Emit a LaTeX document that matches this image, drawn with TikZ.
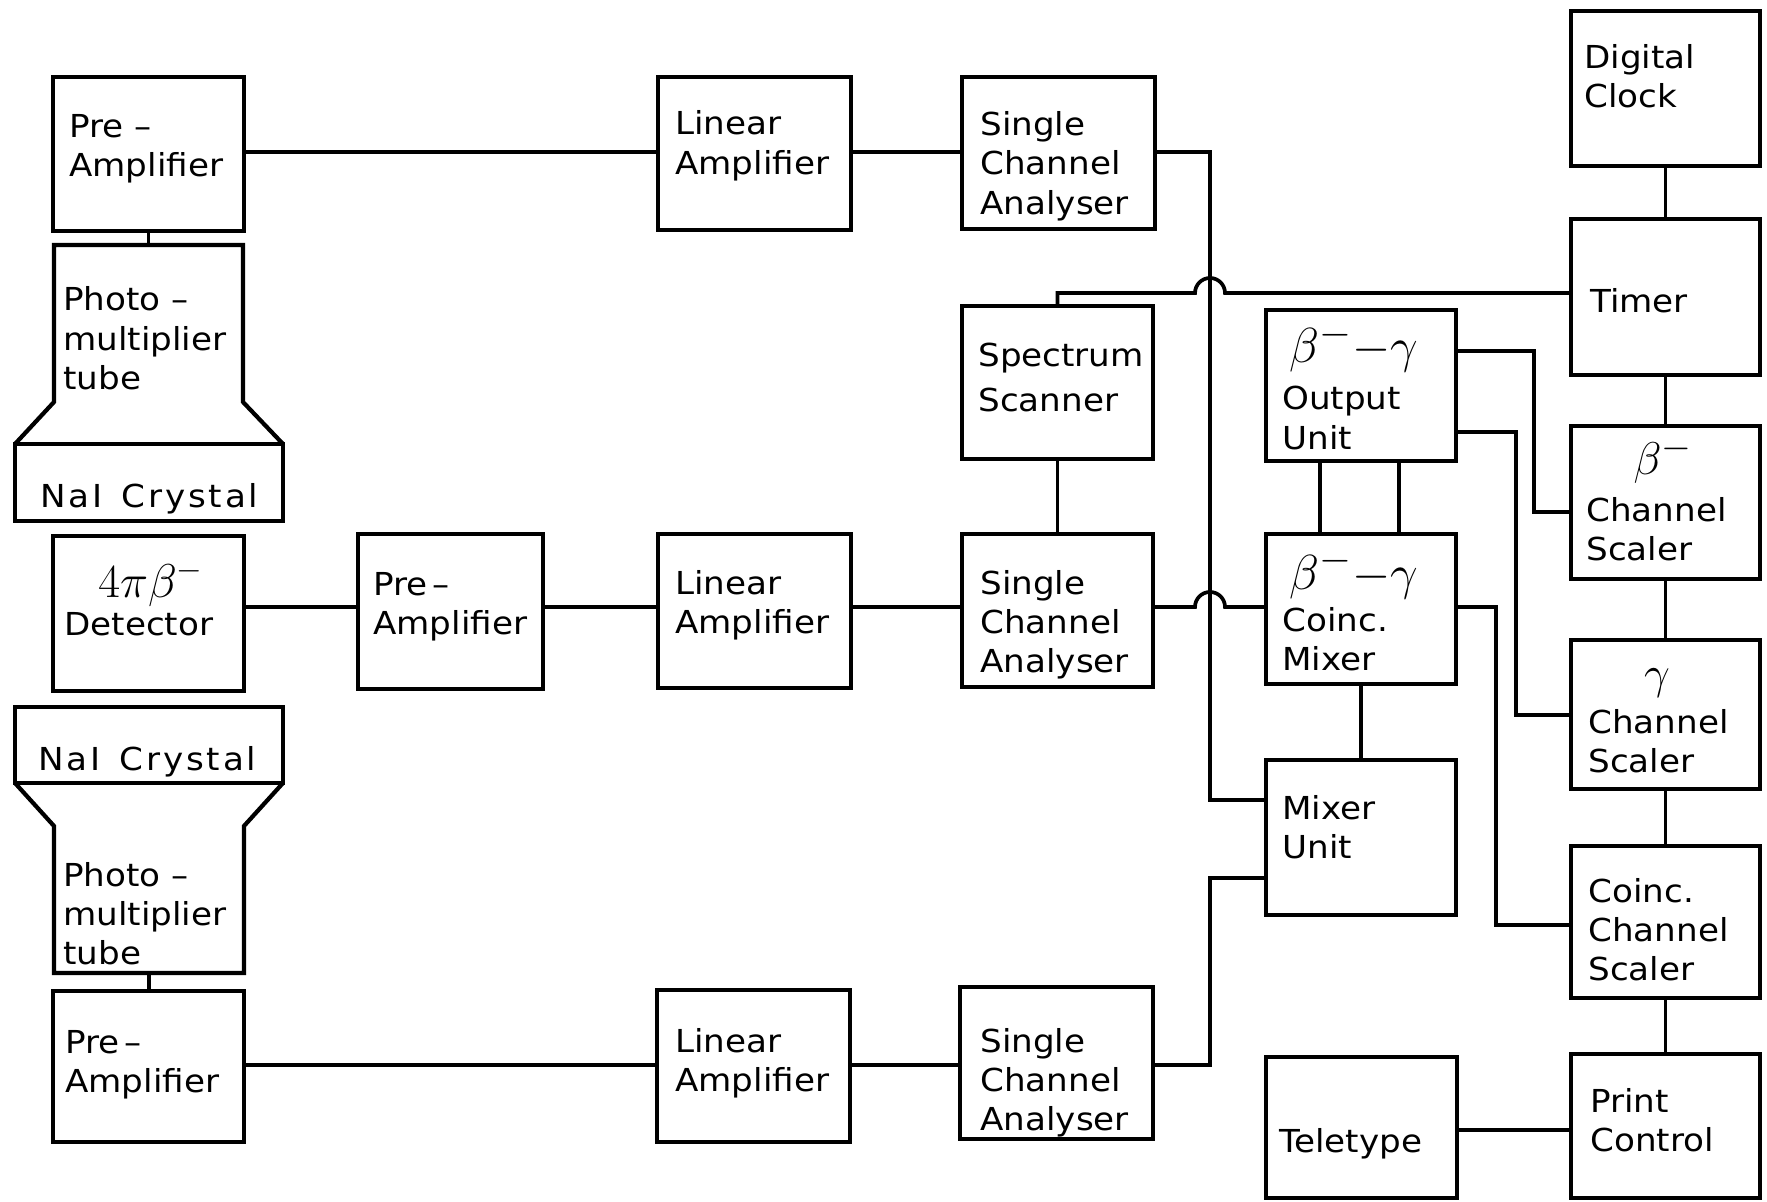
\documentclass[tikz,border=0pt]{standalone}
\usepackage{graphicx}
\usepackage{fontspec}
\setmainfont{DejaVu Sans}[FakeStretch=1.08]
\newcommand\mylines[1]{\begin{tabular}[t]{@{}l@{}}#1\end{tabular}}
\newcommand\gkbig[2]{{\fontsize{24.88}{30}\selectfont\scalebox{#1}{$#2$}}}
\newcommand\mkbox[5]{\node[box, minimum width={(#4-#2)*0.02cm}, minimum height={(#5-#3)*0.02cm}] (#1) at ({(#2+#4)/2},{(#3+#5)/2}) {};}
\newcommand\mkhid[5]{\node[hid, minimum width={(#4-#2)*0.02cm}, minimum height={(#5-#3)*0.02cm}] (#1) at ({(#2+#4)/2},{(#3+#5)/2}) {};}
\newcommand\naitext{{\addfontfeatures{LetterSpace=9}NaI\hspace{0.6em}Crystal}}
\begin{document}
\begin{tikzpicture}[x=0.02cm, y=-0.02cm,
  box/.style={draw, line width=2.4pt, inner sep=0pt, outer sep=0pt},
  hid/.style={inner sep=0pt, outer sep=0pt},
  conn/.style={line width=2.1pt},
  outline/.style={line width=2.4pt, line join=miter},
  txt/.style={anchor=base west, inner sep=0pt, font=\fontsize{18}{22.2}\selectfont},
  gk/.style={anchor=base west, inner sep=0pt},
  gks/.style={anchor=base, inner sep=0pt}]
\useasboundingbox (0,0) rectangle (1767,1202);

% ---------- boxes ----------
\mkbox{preA1}{53}{77}{244}{231}
\mkhid{pmt1}{54}{245}{243}{402}
\mkbox{nai1}{15}{444}{283}{521}
\mkbox{det}{53}{536}{244}{691}
\mkbox{nai2}{15}{707}{283}{783}
\mkhid{pmt2}{54}{826}{244}{973}
\mkbox{preA3}{53}{991}{244}{1142}
\mkbox{preA2}{358}{534}{543}{689}
\mkbox{lin1}{658}{77}{851}{230}
\mkbox{lin2}{658}{534}{851}{688}
\mkbox{lin3}{657}{990}{850}{1142}
\mkbox{sca1}{962}{77}{1155}{229}
\mkbox{scan}{962}{306}{1153}{459}
\mkbox{sca2}{962}{534}{1153}{687}
\mkbox{sca3}{960}{987}{1153}{1139}
\mkbox{out}{1266}{310}{1456}{461}
\mkbox{coin}{1266}{534}{1456}{684}
\mkbox{mix}{1266}{760}{1456}{915}
\mkbox{tele}{1266}{1057}{1457}{1198}
\mkbox{clock}{1571}{11}{1760}{166}
\mkbox{timer}{1571}{219}{1760}{375}
\mkbox{bsc}{1571}{426}{1760}{579}
\mkbox{gsc}{1571}{640}{1760}{789}
\mkbox{csc}{1571}{846}{1760}{998}
\mkbox{prc}{1571}{1054}{1760}{1198}

% photomultiplier outlines
\draw[outline] (nai1.north west) -- (pmt1.south west) -- (pmt1.north west) -- (pmt1.north east) -- (pmt1.south east) -- (nai1.north east);
\draw[outline] (nai2.south west) -- (pmt2.north west) -- (pmt2.south west) -- (pmt2.south east) -- (pmt2.north east) -- (nai2.south east);

% ---------- texts ----------
\node[txt] (tpreA1) at (69,138) {\mylines{Pre –\\Amplifier}};
\node[txt] (tpmt1) at (63,311) {\mylines{Photo –\\multiplier\\tube}};
\node[txt] (tnai1) at (40,507) {\naitext};
\node[gk] (tdetg) at (98,597) {{\fontsize{20.74}{24}\selectfont\scalebox{1.3}{$4\pi\beta^{-}$}}};
\node[txt] (tdet) at (64,635) {Detector};
\node[txt] (tnai2) at (38,770) {\naitext};
\node[txt] (tpmt2) at (63,886) {\mylines{Photo –\\multiplier\\tube}};
\node[txt] (tpreA3) at (65,1053) {\mylines{Pre\,–\\Amplifier}};
\node[txt] (tpreA2) at (373,595) {\mylines{Pre\,–\\Amplifier}};
\node[txt] (tlin1) at (675,135) {\mylines{Linear\\Amplifier}};
\node[txt] (tlin2) at (675,594) {\mylines{Linear\\Amplifier}};
\node[txt] (tlin3) at (675,1052) {\mylines{Linear\\Amplifier}};
\node[txt] (tsca1) at (980,136) {\mylines{Single\\Channel\\Analyser}};
\node[txt] (tscan) at (978,367) {\mylines{Spectrum\\[3pt]Scanner}};
\node[txt] (tsca2) at (980,594) {\mylines{Single\\Channel\\Analyser}};
\node[txt] (tsca3) at (980,1052) {\mylines{Single\\Channel\\Analyser}};
\node[gk] (toutg) at (1289,363) {\gkbig{1.125}{\beta^{-}{-}\gamma}};
\node[txt] (tout) at (1282,410) {\mylines{Output\\Unit}};
\node[gk] (tcoing) at (1289,589) {\gkbig{1.125}{\beta^{-}{-}\gamma}};
\node[txt] (tcoin) at (1282,631) {\mylines{Coinc.\\Mixer}};
\node[txt] (tmix) at (1282,819) {\mylines{Mixer\\Unit}};
\node[txt] (ttele) at (1279,1152) {Teletype};
\node[txt] (tclock) at (1584,69) {\mylines{Digital\\Clock}};
\node[txt] (ttimer) at (1590,313) {Timer};
\node[gks] (tbscg) at (1663,475) {\gkbig{1.05}{\beta^{-}}};
\node[txt] (tbsc) at (1586,521) {\mylines{Channel\\Scaler}};
\node[gks] (tgscg) at (1657,688) {\gkbig{1.05}{\gamma}};
\node[txt] (tgsc) at (1588,733) {\mylines{Channel\\Scaler}};
\node[txt] (tcsc) at (1588,902) {\mylines{Coinc.\\Channel\\Scaler}};
\node[txt] (tprc) at (1590,1112) {\mylines{Print\\Control}};

% ---------- connectors ----------
\coordinate (bus1) at (1210,800);
\coordinate (bus2) at (1210,878);
\coordinate (k1) at (1534,512);
\coordinate (k2) at (1516,715);
\coordinate (k3) at (1496,925);

\draw[conn] (preA1) -- (pmt1);
\draw[conn] (pmt2.south) -- (pmt2.south |- preA3.north);

% row 1
\draw[conn] (preA1.east |- 0,152) -- (lin1.west |- 0,152);
\draw[conn] (lin1.east |- 0,152) -- (sca1.west |- 0,152);
\draw[conn] (sca1.east |- 0,152) -| (bus1) -- (bus1 -| mix.west);

% timer line with hop
\draw[conn] (timer.west |- 0,293) -- (1225,293) arc[start angle=0, end angle=180, radius=0.3cm] -| (scan.north);
\draw[conn] (scan) -- (sca2);

% row 2
\draw[conn] (det.east |- 0,607) -- (preA2.west |- 0,607);
\draw[conn] (preA2.east |- 0,607) -- (lin2.west |- 0,607);
\draw[conn] (lin2.east |- 0,607) -- (sca2.west |- 0,607);
\draw[conn] (sca2.east |- 0,607) -- (1195,607) arc[start angle=180, end angle=0, radius=0.3cm] -- (coin.west |- 0,607);

% row 3
\draw[conn] (preA3.east |- 0,1065) -- (lin3.west |- 0,1065);
\draw[conn] (lin3.east |- 0,1065) -- (sca3.west |- 0,1065);
\draw[conn] (sca3.east |- 0,1065) -| (bus2) -- (bus2 -| mix.west);

% output unit / coinc mixer / mixer unit
\draw[conn] (out.south -| 1320,0) -- (coin.north -| 1320,0);
\draw[conn] (out.south -| 1399,0) -- (coin.north -| 1399,0);
\draw[conn] (coin) -- (mix);

% to scalers
\draw[conn] (out.east |- 0,351) -| (k1) -- (k1 -| bsc.west);
\draw[conn] (out.east |- 0,432) -| (k2) -- (k2 -| gsc.west);
\draw[conn] (coin.east |- 0,607) -| (k3) -- (k3 -| csc.west);

% right column
\draw[conn] (clock) -- (timer);
\draw[conn] (timer) -- (bsc);
\draw[conn] (bsc) -- (gsc);
\draw[conn] (gsc) -- (csc);
\draw[conn] (csc) -- (prc);
\draw[conn] (tele.east |- 0,1130) -- (prc.west |- 0,1130);
\end{tikzpicture}
\end{document}
